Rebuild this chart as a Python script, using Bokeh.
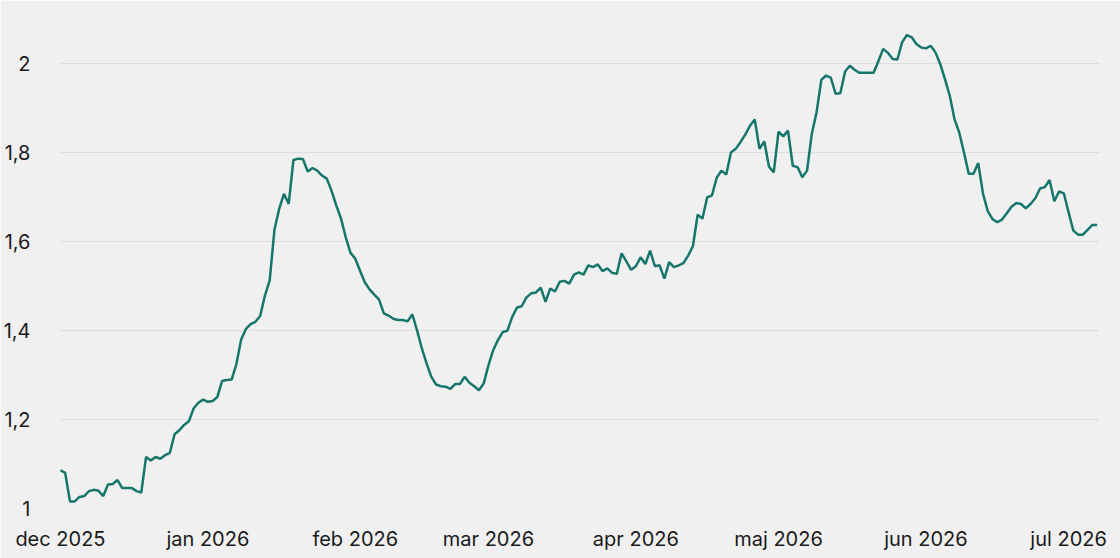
from datetime import datetime, timedelta
from bokeh.plotting import figure
from bokeh.models import FixedTicker, CustomJSTickFormatter, Range1d
from bokeh.embed import file_html
from bokeh.resources import INLINE

start_date = datetime(2025, 12, 1)

values = [
    1.086, 1.080, 1.016, 1.016, 1.026, 1.028, 1.039, 1.042, 1.040, 1.028,
    1.054, 1.055, 1.064, 1.046, 1.046, 1.046, 1.039, 1.036, 1.116, 1.108,
    1.116, 1.112, 1.120, 1.125, 1.167, 1.176, 1.188, 1.196, 1.225, 1.238,
    1.245, 1.240, 1.242, 1.251, 1.287, 1.289, 1.290, 1.325, 1.380, 1.404,
    1.415, 1.420, 1.433, 1.479, 1.513, 1.627, 1.674, 1.708, 1.685, 1.784,
    1.787, 1.786, 1.758, 1.766, 1.760, 1.749, 1.742, 1.715, 1.682, 1.652,
    1.610, 1.575, 1.562, 1.535, 1.509, 1.493, 1.481, 1.470, 1.439, 1.434,
    1.427, 1.424, 1.424, 1.421, 1.437, 1.400, 1.360, 1.326, 1.296, 1.279,
    1.275, 1.274, 1.269, 1.280, 1.280, 1.296, 1.283, 1.275, 1.266, 1.281,
    1.322, 1.356, 1.379, 1.397, 1.400, 1.431, 1.452, 1.455, 1.475, 1.484,
    1.486, 1.497, 1.465, 1.495, 1.488, 1.510, 1.512, 1.506, 1.526, 1.531,
    1.526, 1.547, 1.543, 1.549, 1.534, 1.540, 1.530, 1.528, 1.574, 1.556,
    1.537, 1.545, 1.565, 1.550, 1.580, 1.545, 1.547, 1.517, 1.554, 1.543,
    1.547, 1.552, 1.569, 1.590, 1.661, 1.652, 1.700, 1.704, 1.744, 1.760,
    1.751, 1.801, 1.809, 1.824, 1.841, 1.861, 1.875, 1.809, 1.826, 1.769,
    1.756, 1.848, 1.837, 1.850, 1.771, 1.768, 1.745, 1.760, 1.843, 1.891,
    1.964, 1.974, 1.969, 1.933, 1.934, 1.983, 1.996, 1.987, 1.980, 1.980,
    1.980, 1.980, 2.006, 2.034, 2.025, 2.011, 2.010, 2.049, 2.065, 2.060,
    2.045, 2.037, 2.035, 2.041, 2.026, 2.000, 1.966, 1.929, 1.876, 1.846,
    1.801, 1.753, 1.753, 1.777, 1.708, 1.669, 1.651, 1.644, 1.650, 1.664,
    1.679, 1.687, 1.685, 1.675, 1.685, 1.698, 1.720, 1.723, 1.739, 1.691,
    1.713, 1.709, 1.666, 1.625, 1.616, 1.616, 1.627, 1.638, 1.638,
]

month_starts = [datetime(2025, 12, 1), datetime(2026, 1, 1), datetime(2026, 2, 1),
                datetime(2026, 3, 1), datetime(2026, 4, 1), datetime(2026, 5, 1),
                datetime(2026, 6, 1), datetime(2026, 7, 1)]
month_labels = ["dec 2025", "jan 2026", "feb 2026", "mar 2026", "apr 2026",
                "maj 2026", "jun 2026", "jul 2026"]
y_ticks = [1.0, 1.2, 1.4, 1.6, 1.8, 2.0]

dates = [start_date + timedelta(days=i) for i in range(len(values))]

def ms(d):
    return (d - datetime(1970, 1, 1)).total_seconds() * 1000.0

DAY = 86400000.0
p = figure(width=1120, height=558, x_axis_type="datetime",
           output_backend="svg", toolbar_location=None,
           x_range=Range1d(ms(start_date) - 0.2 * DAY, ms(start_date) + 218.5 * DAY),
           y_range=Range1d(1.0, 2.1),
           min_border_left=56, min_border_right=21, min_border_top=19, min_border_bottom=50)

bg = "#f0f0f0"
p.background_fill_color = bg
p.border_fill_color = bg
p.outline_line_color = None

p.line(dates, values, line_color="#17766b", line_width=2.5)

tick_ms = [ms(d) for d in month_starts]
p.xaxis.ticker = FixedTicker(ticks=tick_ms)
p.xaxis.formatter = CustomJSTickFormatter(args=dict(t=tick_ms, labels=month_labels), code="""
let best = 0; let bd = Infinity;
for (let i = 0; i < t.length; i++) { const dd = Math.abs(t[i] - tick); if (dd < bd) { bd = dd; best = i; } }
return labels[best];
""")
p.yaxis.ticker = FixedTicker(ticks=y_ticks)
p.yaxis.formatter = CustomJSTickFormatter(code="""
const s = (Math.round(tick * 10) / 10).toString();
return s.replace('.', ',');
""")

for ax in (p.xaxis[0], p.yaxis[0]):
    ax.axis_line_color = None
    ax.major_tick_line_color = None
    ax.minor_tick_line_color = None
    ax.major_label_text_font = "Inter"
    ax.major_label_text_font_size = "20px"
    ax.major_label_text_color = "#1a1a1a"

p.xaxis.major_label_standoff = 12
p.yaxis.major_label_standoff = 23

p.xgrid.grid_line_color = None
p.ygrid.grid_line_color = "#dddddd"
p.ygrid.grid_line_width = 1

open("out.html", "w").write(file_html(p, INLINE))
